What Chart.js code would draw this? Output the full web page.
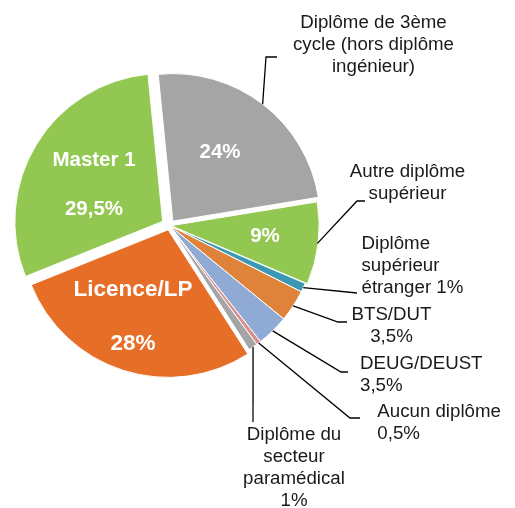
<!DOCTYPE html>
<html>
<head>
<meta charset="utf-8">
<script src="https://cdn.jsdelivr.net/npm/chart.js@4.4.1/dist/chart.umd.min.js"></script>
<style>
  html, body { margin: 0; padding: 0; background: #ffffff; }
  #wrap { width: 515px; height: 508px; }
</style>
</head>
<body>
<div id="wrap"><canvas id="c" width="515" height="508"></canvas></div>
<script>
// ---- data ----
const categories = [
  'Diplôme de 3ème cycle (hors diplôme ingénieur)',
  'Autre diplôme supérieur',
  'Diplôme supérieur étranger',
  'BTS/DUT',
  'DEUG/DEUST',
  'Aucun diplôme',
  'Diplôme du secteur paramédical',
  'Licence/LP',
  'Master 1'
];
const shares = [24, 9, 1, 3.5, 3.5, 0.5, 1, 28, 29.5];
const valueLabels = ['24%', '9%', '1%', '3,5%', '3,5%', '0,5%', '1%', '28%', '29,5%'];

// ---- styles ----
const sliceColors = ['#A5A5A5', '#92C851', '#3A98B3', '#DF833A', '#8FAAD5', '#DA8F8E', '#A5A5A5', '#E76E26', '#92C851'];
const sliceOffsets = [22, 6, 0, 0, 0, 0, 0, 18, 32];

// ---- label layout (text lines + positions) ----
const FONT = '"Liberation Sans", Arial, sans-serif';
const insideLabels = [
  { i: 0, lines: [valueLabels[0]], x: 220, y: [158], size: 20.5 },
  { i: 1, lines: [valueLabels[1]], x: 265, y: [241.5], size: 20.5 },
  { i: 7, lines: [categories[7], valueLabels[7]], x: 133, y: [296, 350], size: 22.5 },
  { i: 8, lines: [categories[8], valueLabels[8]], x: 94, y: [166, 214.5], size: 20.5 }
];
const outsideLabels = [
  { i: 0, lines: ['Diplôme de 3ème', 'cycle (hors diplôme', 'ingénieur)'], x: 373.5, y0: 27.5, align: 'center', elbow: [[266, 57], [277, 57]] },
  { i: 1, lines: ['Autre diplôme', 'supérieur'], x: 407.5, y0: 177, align: 'center', elbow: [[357, 201], [365, 201]] },
  { i: 2, lines: ['Diplôme', 'supérieur', 'étranger ' + valueLabels[2]], x: 361.5, y0: 248.6, align: 'left', elbow: [[357, 293]] },
  { i: 3, lines: [categories[3], valueLabels[3]], x: 391.5, y0: 320.3, align: 'center', elbow: [[338, 322], [347, 322]] },
  { i: 4, lines: [categories[4], valueLabels[4]], x: 360, y0: 368.6, align: 'left', elbow: [[341, 372], [348, 372]] },
  { i: 5, lines: [categories[5], valueLabels[5]], x: 377.3, y0: 417, align: 'left', elbow: [[350, 418], [360, 418]] },
  { i: 6, lines: ['Diplôme du', 'secteur', 'paramédical', valueLabels[6]], x: 294, y0: 440.3, align: 'center', elbow: [[253, 422]] }
];
const LINE_H = 22;

const labelPlugin = {
  id: 'labelPlugin',
  afterDatasetsDraw(chart) {
    const ctx = chart.ctx;
    const arcs = chart.getDatasetMeta(0).data;
    ctx.save();
    // leader lines
    ctx.strokeStyle = '#000000';
    ctx.lineWidth = 1.3;
    outsideLabels.forEach(l => {
      const a = arcs[l.i];
      const p = a.getProps(['x', 'y', 'startAngle', 'endAngle', 'outerRadius'], true);
      const mid = (p.startAngle + p.endAngle) / 2;
      const off = (a.options.offset || 0) / 4;
      const sx = p.x + Math.cos(mid) * (p.outerRadius + off);
      const sy = p.y + Math.sin(mid) * (p.outerRadius + off);
      ctx.beginPath();
      ctx.moveTo(sx, sy);
      l.elbow.forEach(pt => ctx.lineTo(pt[0], pt[1]));
      ctx.stroke();
    });
    // outside text
    ctx.fillStyle = '#1a1a1a';
    ctx.font = '18.7px ' + FONT;
    ctx.textBaseline = 'alphabetic';
    outsideLabels.forEach(l => {
      ctx.textAlign = l.align;
      l.lines.forEach((t, k) => ctx.fillText(t, l.x, l.y0 + k * LINE_H));
    });
    // inside text
    ctx.fillStyle = '#ffffff';
    ctx.textAlign = 'center';
    insideLabels.forEach(l => {
      ctx.font = 'bold ' + l.size + 'px ' + FONT;
      l.lines.forEach((t, k) => ctx.fillText(t, l.x, l.y[k]));
    });
    ctx.restore();
  }
};

new Chart(document.getElementById('c'), {
  type: 'pie',
  data: {
    labels: categories,
    datasets: [{
      data: shares,
      backgroundColor: sliceColors,
      borderColor: '#ffffff',
      borderWidth: 1,
      offset: sliceOffsets
    }]
  },
  options: {
    responsive: false,
    animation: false,
    rotation: -5.7,
    radius: 147.5,
    layout: { padding: { left: 0, right: 176, top: 0, bottom: 57 } },
    plugins: {
      legend: { display: false },
      tooltip: { enabled: false },
      title: { display: false }
    }
  },
  plugins: [labelPlugin]
});
</script>
</body>
</html>
